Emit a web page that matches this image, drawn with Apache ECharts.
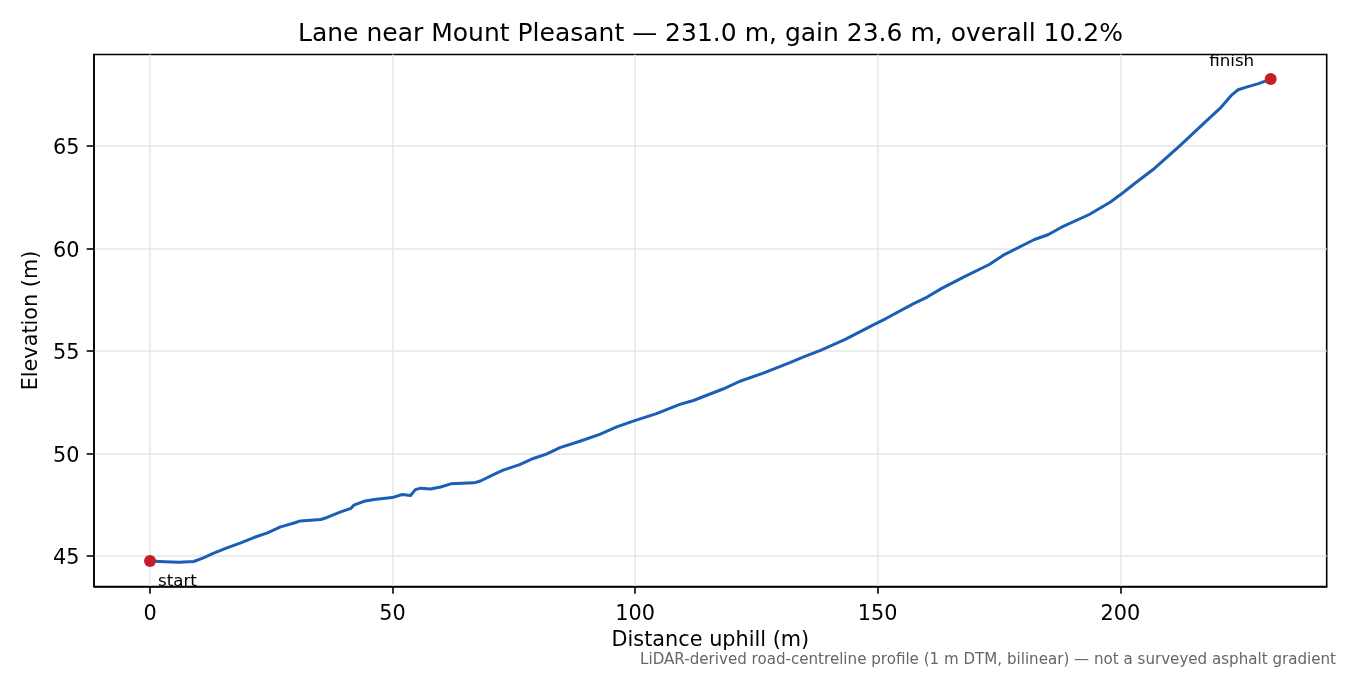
<!DOCTYPE html>
<html>
<head>
<meta charset="utf-8">
<script src="https://cdn.jsdelivr.net/npm/echarts@6/dist/echarts.min.js"></script>
<style>
  html, body { margin: 0; padding: 0; background: #fff; }
  #chart { width: 1350px; height: 675px; }
</style>
</head>
<body>
<div id="chart"></div>
<script>
const titleText = 'Lane near Mount Pleasant — 231.0 m, gain 23.6 m, overall 10.2%';
const xAxisName = 'Distance uphill (m)';
const yAxisName = 'Elevation (m)';
const footnote = 'LiDAR-derived road-centreline profile (1 m DTM, bilinear) — not a surveyed asphalt gradient';

const distance = [0, 3, 6, 9, 11, 13, 16, 18.7, 21.4, 24.2, 26.9, 29.7, 31, 35.2, 36.5, 39.3, 41.4, 42, 44.1, 46.2,
  49.9, 52, 53.7, 54.7, 55.8, 57.8, 59.9, 62, 66.8, 68.1, 70.9, 72.8, 76.2, 79, 81.7, 84.5, 88.6, 92.7, 96.2, 99.9,
  104.4, 109.2, 112, 118.1, 121.6, 126.4, 131.9, 134.6, 138.2, 143.2, 148.9, 151.7, 157.4, 160.2, 163.1, 168, 173,
  175.8, 182.3, 185.1, 187.9, 193.6, 197.9, 200, 202.9, 207.1, 212.2, 217.7, 220.6, 223.0, 224.3, 226, 228.5, 231];
const elevation = [44.74, 44.71, 44.68, 44.72, 44.9, 45.12, 45.4, 45.63, 45.89, 46.12, 46.41, 46.6, 46.7, 46.77, 46.87,
  47.14, 47.31, 47.47, 47.66, 47.75, 47.84, 47.99, 47.94, 48.23, 48.30, 48.26, 48.36, 48.51, 48.56, 48.65, 48.97,
  49.18, 49.45, 49.75, 49.96, 50.28, 50.59, 50.93, 51.29, 51.6, 51.94, 52.39, 52.58, 53.14, 53.52, 53.92, 54.43,
  54.7, 55.03, 55.55, 56.25, 56.58, 57.31, 57.63, 58.04, 58.64, 59.22, 59.66, 60.44, 60.67, 61.04, 61.66, 62.26,
  62.62, 63.16, 63.92, 65.0, 66.22, 66.85, 67.5, 67.75, 67.88, 68.05, 68.27];

const xTicks = [0, 50, 100, 150, 200];
const yTicks = [45, 50, 55, 60, 65];
const endpointLabels = ['start', 'finish'];

const xMin = -11.55, xMax = 242.55;
const yMin = 43.50, yMax = 69.47;

const FONT = 'DejaVu Sans';
const lineData = distance.map((d, i) => [d, elevation[i]]);
const last = distance.length - 1;

const chart = echarts.init(document.getElementById('chart'), null, { renderer: 'canvas' });
chart.setOption({
  animation: false,
  backgroundColor: '#ffffff',
  textStyle: { fontFamily: FONT },
  grid: {
    left: 94, right: 23.3, top: 54.5, bottom: 88.5,
    show: true, borderColor: '#000', borderWidth: 1.6, backgroundColor: 'transparent'
  },
  graphic: [
    {
      type: 'text', x: 710.5, y: 34.5, z: 100,
      style: { text: titleText, font: '25px "DejaVu Sans"', fill: '#000', align: 'center', verticalAlign: 'middle' }
    },
    {
      type: 'text', x: 1336, y: 660, z: 100,
      style: { text: footnote, font: '15.1px "DejaVu Sans"', fill: '#666666', align: 'right', verticalAlign: 'middle' }
    }
  ],
  xAxis: {
    type: 'value', min: xMin, max: xMax, splitNumber: 5,
    name: xAxisName, nameLocation: 'middle', nameGap: 44,
    nameTextStyle: { fontFamily: FONT, fontSize: 20.8, color: '#000' },
    axisLine: { show: true, onZero: false, lineStyle: { color: '#000', width: 1.6 } },
    axisTick: { show: true, customValues: xTicks, length: 7.3, lineStyle: { color: '#000', width: 1.6 } },
    axisLabel: {
      customValues: xTicks, margin: 14.6, color: '#000',
      formatter: v => '{t|' + v + '}',
      rich: { t: { fontFamily: FONT, fontSize: 20.8, color: '#000', padding: [3, 0, 0, 0] } }
    },
    splitLine: { show: true, lineStyle: { color: '#e6e6e6', width: 1.5 } }
  },
  yAxis: {
    type: 'value', min: yMin, max: yMax, splitNumber: 5,
    name: yAxisName, nameLocation: 'middle', nameGap: 48,
    nameTextStyle: { fontFamily: FONT, fontSize: 20.8, color: '#000' },
    axisLine: { show: true, onZero: false, lineStyle: { color: '#000', width: 1.6 } },
    axisTick: { show: true, customValues: yTicks, length: 7.3, lineStyle: { color: '#000', width: 1.6 } },
    axisLabel: {
      customValues: yTicks, margin: 14.6, color: '#000',
      formatter: v => '{t|' + v + '}',
      rich: { t: { fontFamily: FONT, fontSize: 20.8, color: '#000', padding: [6, 0, 0, 0] } }
    },
    splitLine: { show: true, lineStyle: { color: '#e6e6e6', width: 1.5 } }
  },
  series: [
    {
      type: 'line', data: lineData, showSymbol: false, symbol: 'none',
      lineStyle: { color: '#1b5fb5', width: 3, join: 'round', cap: 'round', opacity: 1 }, z: 3
    },
    {
      type: 'scatter', symbolSize: 12, z: 5,
      itemStyle: { color: '#c41e2b', opacity: 1 },
      data: [
        {
          value: [distance[0], elevation[0]],
          label: { show: true, formatter: endpointLabels[0], position: [14, 26.5], align: 'left', verticalAlign: 'middle',
                   fontFamily: FONT, fontSize: 16.7, color: '#000' }
        },
        {
          value: [distance[last], elevation[last]],
          label: { show: true, formatter: endpointLabels[1], position: [-33, -11.5], align: 'center', verticalAlign: 'middle',
                   fontFamily: FONT, fontSize: 16.7, color: '#000' }
        }
      ]
    }
  ]
});
</script>
</body>
</html>
